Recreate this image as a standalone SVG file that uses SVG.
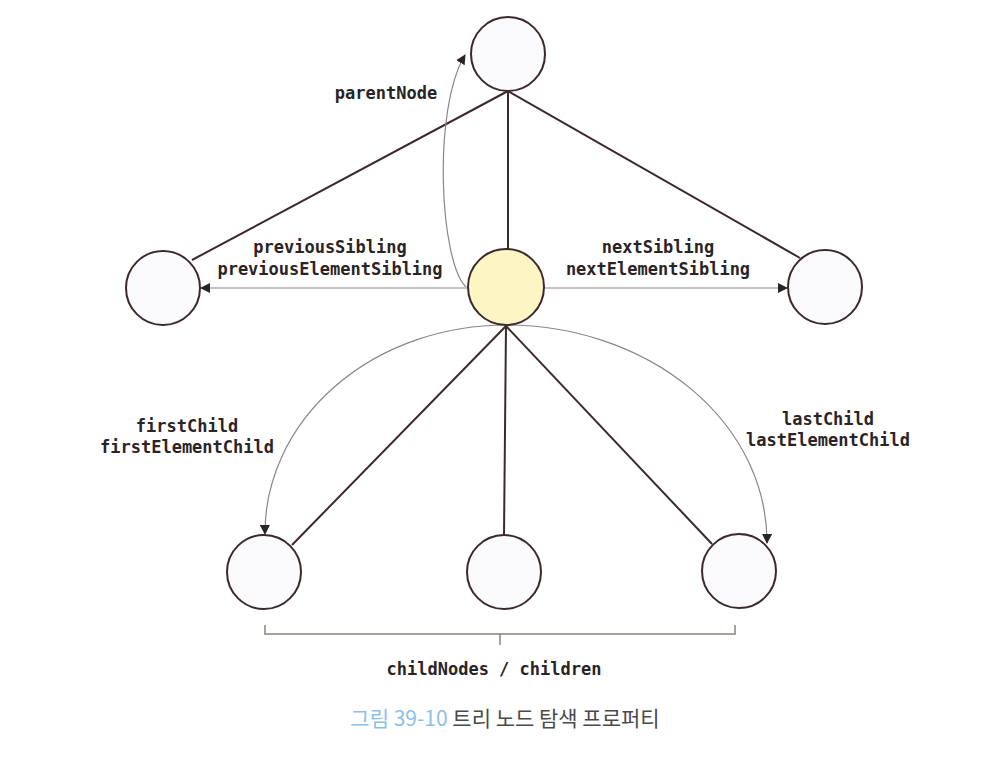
<svg xmlns="http://www.w3.org/2000/svg" width="1008" height="764" viewBox="0 0 1008 764">
  <style>
    .node { fill: #fbfbfd; stroke: #3b2a2c; stroke-width: 2; }
    .cur { fill: #fdf6c4; stroke: #3b2a2c; stroke-width: 2; }
    .edge { stroke: #3b2a2c; stroke-width: 2; fill: none; }
    .ptr { stroke: #8a8686; stroke-width: 1.2; fill: none; marker-end: url(#ah); }
    .brace { stroke: #8a8378; stroke-width: 1.5; fill: none; }
    .lbl { font-family: "DejaVu Sans Mono", "Liberation Mono", monospace; font-size: 17px; font-weight: bold; fill: #2a2426; text-anchor: middle; }
    .cap { font-family: "Noto Sans CJK KR", "Noto Sans", sans-serif; font-size: 21px; fill: #4a4a4a; text-anchor: middle; }
  </style>
  <defs>
    <marker id="ah" viewBox="0 0 10 10" refX="9" refY="5" markerWidth="10" markerHeight="10" markerUnits="userSpaceOnUse" orient="auto">
      <path d="M0,0 L10,5 L0,10 z" fill="#2a2426"/>
    </marker>
  </defs>
  <rect width="1008" height="764" fill="#ffffff"/>

  <g id="connectors">
    <line class="edge" x1="508" y1="91" x2="192" y2="260"/>
    <line class="edge" x1="508" y1="91" x2="508" y2="249"/>
    <line class="edge" x1="508" y1="91" x2="800" y2="258"/>
    <line class="edge" x1="506" y1="326" x2="292" y2="545"/>
    <line class="edge" x1="506" y1="326" x2="504" y2="535"/>
    <line class="edge" x1="506" y1="326" x2="712" y2="544"/>
    <path class="ptr" d="M466 287 C440 262, 432 110, 465 55"/>
    <line class="ptr" x1="468" y1="288" x2="201" y2="288"/>
    <line class="ptr" x1="545" y1="288" x2="787" y2="288"/>
    <path class="ptr" d="M506 325 A241 208 0 0 0 265 534"/>
    <path class="ptr" d="M506 325 A261 217 0 0 1 767 543"/>
    <path class="brace" d="M265 625 L265 634 L735 634 L735 625 M500 634 L500 645"/>
  </g>

  <g id="node-parent"><circle class="node" cx="508" cy="54" r="37"/></g>
  <g id="node-prev"><circle class="node" cx="163" cy="288" r="37"/></g>
  <g id="node-current"><circle class="cur" cx="506" cy="287" r="38"/></g>
  <g id="node-next"><circle class="node" cx="825" cy="287" r="37"/></g>
  <g id="node-child1"><circle class="node" cx="264" cy="572" r="37"/></g>
  <g id="node-child2"><circle class="node" cx="504" cy="572" r="37"/></g>
  <g id="node-child3"><circle class="node" cx="739" cy="571" r="37"/></g>

  <g id="labels">
    <text class="lbl" x="386" y="99">parentNode</text>
    <text class="lbl" x="330" y="253">previousSibling</text>
    <text class="lbl" x="330" y="275">previousElementSibling</text>
    <text class="lbl" x="658" y="253">nextSibling</text>
    <text class="lbl" x="658" y="275">nextElementSibling</text>
    <text class="lbl" x="187" y="432">firstChild</text>
    <text class="lbl" x="187" y="453">firstElementChild</text>
    <text class="lbl" x="828" y="425">lastChild</text>
    <text class="lbl" x="828" y="446">lastElementChild</text>
    <text class="lbl" x="494" y="675">childNodes / children</text>
    <text class="cap" x="505" y="726"><tspan fill="#8cbfe8">그림 39-10</tspan> 트리 노드 탐색 프로퍼티</text>
  </g>
</svg>
